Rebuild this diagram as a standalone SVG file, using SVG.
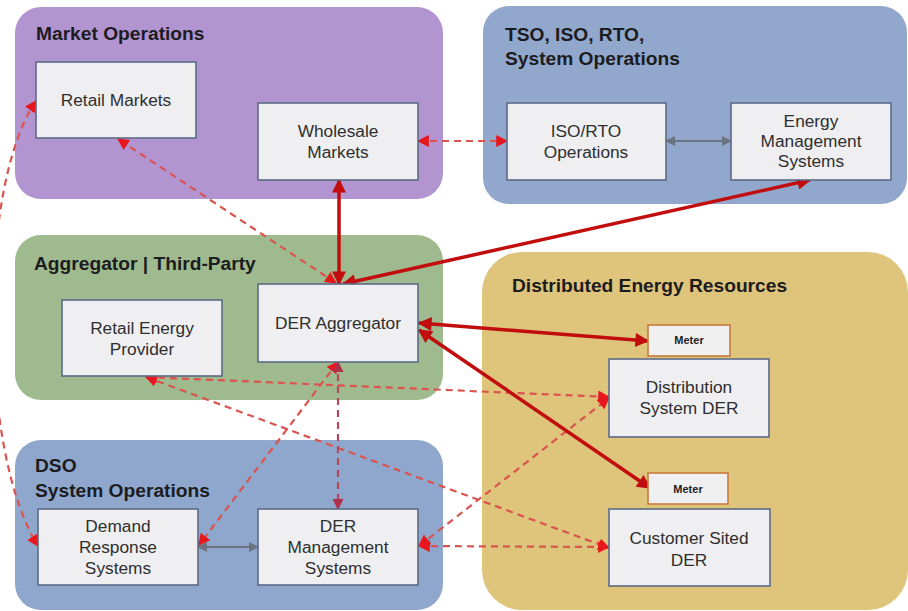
<svg xmlns="http://www.w3.org/2000/svg" width="908" height="611" viewBox="0 0 908 611">
<style>
  .zone { stroke: none; }
  .ztitle { font-family: "Liberation Sans", Arial, sans-serif; font-size: 19.2px; font-weight: bold; fill: #1c1c1f; }
  .box { fill: #efeff1; stroke: #5b6b87; stroke-width: 1.6; }
  .meter { fill: #f0f0f0; stroke: #c77a3c; stroke-width: 1.6; }
  .lbl { font-family: "Liberation Sans", Arial, sans-serif; font-size: 17.3px; fill: #2e2e2e; text-anchor: middle; }
  .mlbl { font-family: "Liberation Sans", Arial, sans-serif; font-size: 11px; font-weight: bold; fill: #222222; text-anchor: middle; }
  .dash { fill: none; stroke: #d9534f; stroke-width: 2.2; stroke-dasharray: 7 5; marker-start: url(#ad); marker-end: url(#ad); }
  .dash2 { fill: none; stroke: #b24a5c; stroke-width: 2.2; stroke-dasharray: 7 5; marker-start: url(#ad2); marker-end: url(#ad2); }
  .solid { fill: none; stroke: #c10d0d; stroke-width: 3.5; marker-start: url(#as); marker-end: url(#as); }
  .gray { fill: none; stroke: #6b7282; stroke-width: 2; marker-start: url(#ag); marker-end: url(#ag); }
</style>
<defs>
  <marker id="ad" viewBox="0 0 10 10" refX="9" refY="5" markerWidth="12" markerHeight="12" markerUnits="userSpaceOnUse" orient="auto-start-reverse">
    <path d="M0,0 L10,5 L0,10 Z" fill="#e8161d"/>
  </marker>
  <marker id="ad2" viewBox="0 0 10 10" refX="9" refY="5" markerWidth="11" markerHeight="11" markerUnits="userSpaceOnUse" orient="auto-start-reverse">
    <path d="M0,0 L10,5 L0,10 Z" fill="#b0304a"/>
  </marker>
  <marker id="as" viewBox="0 0 10 10" refX="9" refY="5" markerWidth="16" markerHeight="14" markerUnits="userSpaceOnUse" orient="auto-start-reverse">
    <path d="M0,0 L10,5 L0,10 Z" fill="#c10d0d"/>
  </marker>
  <marker id="ag" viewBox="0 0 10 10" refX="9" refY="5" markerWidth="11" markerHeight="10" markerUnits="userSpaceOnUse" orient="auto-start-reverse">
    <path d="M0,0 L10,5 L0,10 Z" fill="#6b7282"/>
  </marker>
</defs>
<rect width="908" height="611" fill="#ffffff"/>

<g id="zone-market">
  <rect class="zone" x="15" y="7" width="428" height="192" rx="26" fill="#b294d1"/>
  <text class="ztitle" x="36" y="40">Market Operations</text>
</g>
<g id="zone-tso">
  <rect class="zone" x="483" y="6" width="424" height="198" rx="26" fill="#91a8cc"/>
  <text class="ztitle" x="505" y="41">TSO, ISO, RTO,</text>
  <text class="ztitle" x="505" y="65">System Operations</text>
</g>
<g id="zone-aggregator">
  <rect class="zone" x="15" y="235" width="428" height="165" rx="26" fill="#9fba8e"/>
  <text class="ztitle" x="34" y="270">Aggregator | Third-Party</text>
</g>
<g id="zone-der">
  <rect class="zone" x="482" y="252" width="426" height="358" rx="40" fill="#dfc47c"/>
  <text class="ztitle" x="512" y="292">Distributed Energy Resources</text>
</g>
<g id="zone-dso">
  <rect class="zone" x="15" y="440" width="428" height="170" rx="26" fill="#8fa7cc"/>
  <text class="ztitle" x="35" y="472">DSO</text>
  <text class="ztitle" x="35" y="497">System Operations</text>
</g>

<g id="connectors">
  <path class="dash" d="M36,101 C-22,185 -22,450 38,546"/>
  <path class="dash" d="M336,283 L118,139"/>
  <path class="dash" d="M418,141 L507,141"/>
  <path class="dash" d="M146,377 L609,397"/>
  <path class="dash" d="M146,377 L609,548"/>
  <path class="dash" d="M338,362 L199,545"/>
  <path class="dash2" d="M338,362 L338,509"/>
  <path class="dash" d="M419,546 L609,398"/>
  <path class="dash" d="M419,546 L609,547"/>
  <path class="gray" d="M666,141 L731,141"/>
  <path class="gray" d="M198,547 L258,547"/>
  <path class="solid" d="M339,180 L339,284"/>
  <path class="solid" d="M810,180 L343,284"/>
  <path class="solid" d="M419,323 L648,341"/>
  <path class="solid" d="M419,330 L650,488"/>
</g>

<g id="retail-markets">
  <rect class="box" x="36" y="62" width="160" height="76"/>
  <text class="lbl" x="116" y="106">Retail Markets</text>
</g>
<g id="wholesale-markets">
  <rect class="box" x="258" y="103" width="160" height="77"/>
  <text class="lbl" x="338" y="137">Wholesale</text>
  <text class="lbl" x="338" y="158">Markets</text>
</g>
<g id="iso-rto-operations">
  <rect class="box" x="507" y="103" width="159" height="77"/>
  <text class="lbl" x="586" y="137">ISO/RTO</text>
  <text class="lbl" x="586" y="158">Operations</text>
</g>
<g id="energy-management-systems">
  <rect class="box" x="731" y="103" width="160" height="77"/>
  <text class="lbl" x="811" y="127">Energy</text>
  <text class="lbl" x="811" y="147">Management</text>
  <text class="lbl" x="811" y="167">Systems</text>
</g>
<g id="retail-energy-provider">
  <rect class="box" x="62" y="300" width="160" height="76"/>
  <text class="lbl" x="142" y="334">Retail Energy</text>
  <text class="lbl" x="142" y="355">Provider</text>
</g>
<g id="der-aggregator">
  <rect class="box" x="258" y="284" width="160" height="78"/>
  <text class="lbl" x="338" y="329">DER Aggregator</text>
</g>
<g id="meter-1">
  <rect class="meter" x="648" y="325" width="82" height="31"/>
  <text class="mlbl" x="689" y="344">Meter</text>
</g>
<g id="distribution-system-der">
  <rect class="box" x="609" y="359" width="160" height="78"/>
  <text class="lbl" x="689" y="393">Distribution</text>
  <text class="lbl" x="689" y="414">System DER</text>
</g>
<g id="meter-2">
  <rect class="meter" x="648" y="473" width="80" height="31"/>
  <text class="mlbl" x="688" y="493">Meter</text>
</g>
<g id="customer-sited-der">
  <rect class="box" x="609" y="509" width="161" height="77"/>
  <text class="lbl" x="689" y="544">Customer Sited</text>
  <text class="lbl" x="689" y="566">DER</text>
</g>
<g id="demand-response-systems">
  <rect class="box" x="38" y="509" width="160" height="76"/>
  <text class="lbl" x="118" y="532">Demand</text>
  <text class="lbl" x="118" y="553">Response</text>
  <text class="lbl" x="118" y="574">Systems</text>
</g>
<g id="der-management-systems">
  <rect class="box" x="258" y="509" width="160" height="76"/>
  <text class="lbl" x="338" y="532">DER</text>
  <text class="lbl" x="338" y="553">Management</text>
  <text class="lbl" x="338" y="574">Systems</text>
</g>
</svg>
